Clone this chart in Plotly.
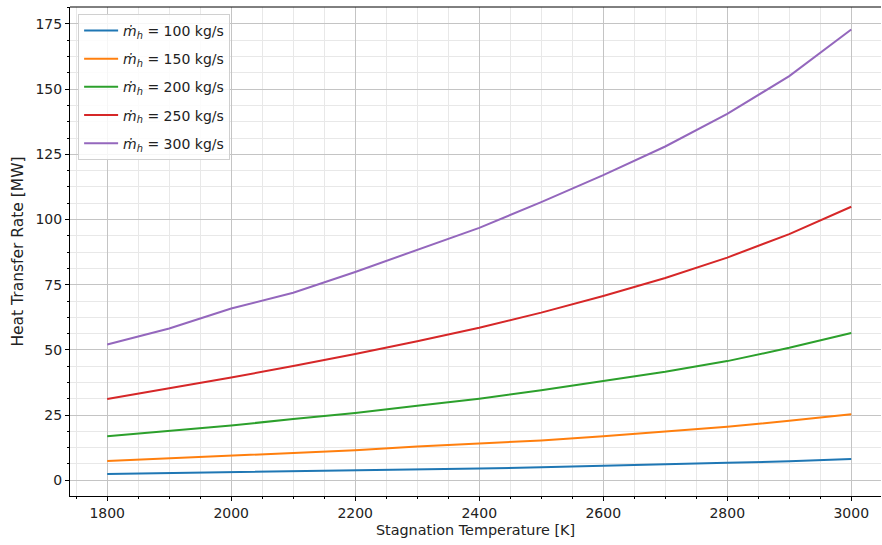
import plotly.graph_objects as go

temps = [1800, 1900, 2000, 2100, 2200, 2300, 2400, 2500, 2600, 2700, 2800, 2900, 3000]
mass_flows = [100, 150, 200, 250, 300]
q_100 = [2.4, 2.75, 3.07, 3.4, 3.7, 4.0, 4.5, 5.0, 5.5, 6.1, 6.7, 7.3, 8.2]
q_150 = [7.4, 8.4, 9.5, 10.5, 11.5, 13.0, 14.1, 15.3, 16.9, 18.7, 20.5, 22.8, 25.3]
q_200 = [16.9, 18.9, 21.0, 23.5, 25.8, 28.6, 31.3, 34.5, 38.0, 41.6, 45.7, 50.8, 56.5]
q_250 = [31.2, 35.2, 39.4, 43.8, 48.4, 53.3, 58.5, 64.3, 70.7, 77.6, 85.4, 94.4, 104.9]
q_300 = [52.1, 58.2, 65.9, 71.9, 79.9, 88.3, 96.8, 106.7, 117.0, 128.0, 140.5, 155.0, 172.9]
series = [q_100, q_150, q_200, q_250, q_300]
colors = ["#1f77b4", "#ff7f0e", "#2ca02c", "#d62728", "#9467bd"]

fig = go.Figure()
for i, (m, q, c) in enumerate(zip(mass_flows, series, colors)):
    fig.add_trace(go.Scatter(
        x=temps, y=q, mode="lines",
        line=dict(color=c, width=2),
        name=f"<i>ṁ</i><sub><i>h</i></sub> = {m} kg/s",
        legendgroup=f"g{i}",
    ))

fig.update_layout(
    width=882, height=545,
    margin=dict(l=70, r=1, t=7, b=49),
    paper_bgcolor="white", plot_bgcolor="white",
    font=dict(family="DejaVu Sans", size=14, color="#222222"),
    showlegend=True,
    legend=dict(
        x=0.01, y=0.986, xanchor="left", yanchor="top",
        bgcolor="rgba(255,255,255,0.85)", bordercolor="#d0d0d0", borderwidth=1,
        font=dict(family="DejaVu Sans", size=14, color="#222222"),
        traceorder="grouped", tracegroupgap=7, itemwidth=34,
    ),
    xaxis=dict(
        range=[1740, 3048],
        tick0=1800, dtick=200,
        ticks="outside", ticklen=4, tickcolor="black",
        showline=True, linecolor="black", linewidth=1,
        showgrid=True, gridcolor="#c4c4c4", gridwidth=1,
        zeroline=False,
        minor=dict(dtick=50, ticks="outside", ticklen=2, tickcolor="black",
                   showgrid=True, gridcolor="#e8e8e8", gridwidth=1),
        title=dict(text="Stagnation Temperature [K]", standoff=5,
                   font=dict(family="DejaVu Sans", size=14.4, color="#222222")),
    ),
    yaxis=dict(
        range=[-6.03, 181.5],
        tick0=0, dtick=25,
        ticks="outside", ticklen=4, tickcolor="black",
        showline=True, linecolor="black", linewidth=1,
        showgrid=True, gridcolor="#c4c4c4", gridwidth=1,
        zeroline=False,
        minor=dict(dtick=6.25, ticks="outside", ticklen=2, tickcolor="black",
                   showgrid=True, gridcolor="#e8e8e8", gridwidth=1),
        title=dict(text="Heat Transfer Rate [MW]", standoff=8,
                   font=dict(family="DejaVu Sans", size=15.5, color="#222222")),
    ),
)
fig.add_shape(type="line", xref="paper", yref="paper", x0=0, x1=1, y0=1, y1=1,
              line=dict(color="black", width=1))
fig.write_html("out.html", config={"displayModeBar": False},
               post_script="document.body.style.margin='0';")
